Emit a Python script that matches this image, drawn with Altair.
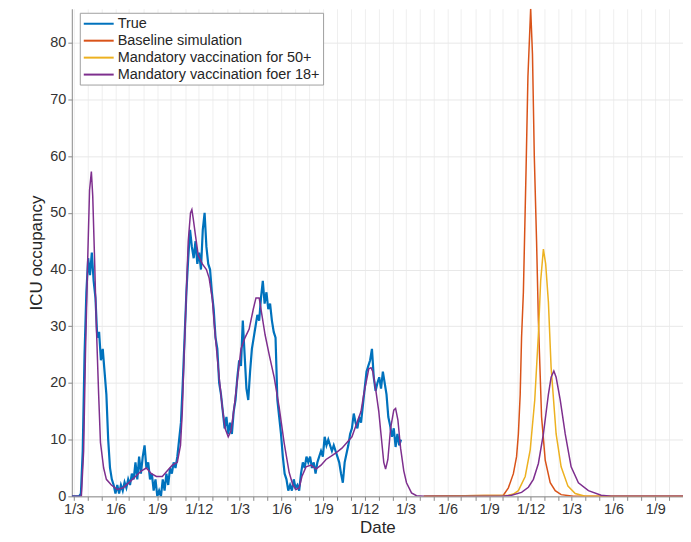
import altair as alt
import pandas as pd

# ---- data ----
series_names = ["True", "Baseline simulation", "Mandatory vaccination for 50+", "Mandatory vaccination foer 18+"]
series_colors = ["#0072BD", "#D95319", "#EDB120", "#7E2F8E"]

# observed ICU occupancy, one value every 4 days from 2020-02-26
true_start = "2020-02-26"
true_step_days = 4
true_values = [
    0, 0, 0, 0, 0, 0.5, 8, 25, 36, 42,
    39, 43, 38, 35, 28, 29, 24, 26, 22, 18,
    10, 5, 3, 2, 0.5, 2, 0.5, 2, 1, 2.5,
    1.5, 3, 2, 4, 3, 6, 3, 7, 4, 7,
    9, 5, 6, 3, 4, 1, 3, 0, 1, 0,
    3, 1, 4, 2, 5, 4, 6, 5, 7, 10,
    13, 20, 28, 36, 42, 47, 44, 42, 45, 41,
    43, 40, 47, 50, 44, 41, 40, 36, 33, 28,
    26, 20, 18, 15, 12, 14, 11, 13, 11, 15,
    17, 21, 24, 23, 31, 25, 19, 17, 22, 26,
    28, 30, 32, 31, 35, 38, 34, 36, 33, 34,
    31, 29, 28, 17, 14, 11, 7, 4, 3, 1,
    2, 1, 3, 1.5, 2, 1, 4, 6, 5, 7,
    6, 7, 5, 6, 4, 6, 7, 8, 7, 10.5,
    9, 10, 9, 8, 9, 8, 7, 6, 4, 2.4,
    6, 7.5, 9, 11, 12, 14.6, 13, 12, 14, 13,
    16, 19, 22, 23, 24, 26, 21, 18.6, 20, 21,
    19, 22, 20, 18, 14, 12.5, 10.5, 12, 8.7, 11,
    9, 10,
]

# fitted model + scenario "mandatory vaccination for 18+"
v18_dates = [
    "2020-02-26", "2020-03-18", "2020-03-23", "2020-03-27", "2020-04-01", "2020-04-05", "2020-04-09", "2020-04-12", "2020-04-16", "2020-04-20",
    "2020-04-25", "2020-04-29", "2020-05-06", "2020-05-12", "2020-05-23", "2020-06-05", "2020-06-18", "2020-07-02", "2020-07-15", "2020-07-28",
    "2020-08-08", "2020-08-19", "2020-08-30", "2020-09-12", "2020-09-23", "2020-10-04", "2020-10-15", "2020-10-22", "2020-10-26", "2020-10-30",
    "2020-11-04", "2020-11-08", "2020-11-13", "2020-11-16", "2020-11-19", "2020-11-24", "2020-11-30", "2020-12-09", "2020-12-18", "2020-12-24",
    "2020-12-31", "2021-01-04", "2021-01-11", "2021-01-15", "2021-01-22", "2021-01-28", "2021-02-04", "2021-02-10", "2021-02-17", "2021-02-24",
    "2021-03-04", "2021-03-13", "2021-03-22", "2021-03-31", "2021-04-06", "2021-04-13", "2021-04-19", "2021-04-26", "2021-05-05", "2021-05-16",
    "2021-05-27", "2021-06-07", "2021-06-18", "2021-06-26", "2021-07-03", "2021-07-10", "2021-07-16", "2021-07-25", "2021-08-05", "2021-08-16",
    "2021-08-27", "2021-09-07", "2021-09-20", "2021-10-01", "2021-10-12", "2021-10-23", "2021-11-03", "2021-11-14", "2021-11-23", "2021-11-29",
    "2021-12-04", "2021-12-10", "2021-12-15", "2021-12-19", "2021-12-25", "2022-01-01", "2022-01-05", "2022-01-12", "2022-01-16", "2022-01-21",
    "2022-01-27", "2022-02-03", "2022-02-07", "2022-02-12", "2022-02-18", "2022-02-25", "2022-03-03", "2022-03-14", "2022-03-25", "2022-04-10",
    "2022-09-28", "2022-10-20", "2022-11-11", "2022-11-26", "2022-12-07", "2022-12-18", "2022-12-29", "2023-01-09", "2023-01-15", "2023-01-21",
    "2023-01-26", "2023-02-04", "2023-02-15", "2023-02-28", "2023-03-16", "2023-04-07", "2023-05-05", "2023-05-27", "2023-11-01",
]
v18_values = [
    0, 0, 8, 25, 42, 54, 57.3, 53, 42, 30,
    18, 9.5, 5, 3, 2, 1.2, 1.5, 2.5, 3.5, 4.5,
    5, 4, 3.5, 3.5, 4.5, 5.5, 6, 9, 15, 25,
    36, 45, 50, 50.6, 49, 46, 42.5, 41, 40, 38.5,
    34.8, 30.5, 24.4, 21, 15.7, 12, 10.5, 11.5, 15.7, 20.5,
    26, 28, 29.5, 33, 35, 35, 32, 28.5, 25, 21,
    15.7, 9.4, 4.2, 2, 1.2, 1.5, 3.5, 5.2, 5.5, 4.8,
    5.5, 6.5, 7.2, 7.8, 8.5, 9.5, 10.5, 13, 15, 18,
    20, 22.5, 22.7, 22, 19, 15, 11.7, 6, 4.8, 6.5,
    12, 15.2, 15.5, 13.5, 8.5, 4.5, 2.4, 0.6, 0.1, 0,
    0, 0.2, 0.7, 1.6, 3, 5.8, 11, 18, 21, 22.1,
    21, 17, 11, 5.2, 2.4, 1, 0.2, 0, 0,
]

# baseline simulation (forecast part)
base_dates = [
    "2022-04-10", "2022-10-02", "2022-10-13", "2022-10-24", "2022-10-31", "2022-11-04", "2022-11-08", "2022-11-11", "2022-11-15", "2022-11-21",
    "2022-11-25", "2022-12-01", "2022-12-05", "2022-12-09", "2022-12-14", "2022-12-18", "2022-12-25", "2023-01-02", "2023-01-13", "2023-01-24",
    "2023-02-06", "2023-03-05", "2023-11-01",
]
base_values = [
    0, 0.2, 1.5, 4, 7, 11, 18, 28, 36, 58,
    74, 86, 78, 60, 45, 31, 14, 6.4, 2.4, 1,
    0.3, 0, 0,
]

# mandatory vaccination for 50+ (forecast part)
v50_dates = [
    "2022-04-10", "2022-10-13", "2022-10-24", "2022-11-04", "2022-11-19", "2022-11-30", "2022-12-10", "2022-12-18", "2022-12-23", "2022-12-29",
    "2023-01-03", "2023-01-09", "2023-01-15", "2023-01-26", "2023-02-06", "2023-02-21", "2023-03-09", "2023-03-31", "2023-11-01",
]
v50_values = [
    0, 0.2, 0.4, 1, 3.5, 8.2, 17, 28.6, 38, 43.6,
    41, 34.3, 22.7, 11, 5.2, 1.8, 0.5, 0, 0,
]

# ---- tables ----
df_true = pd.DataFrame({
    "date": pd.date_range(true_start, periods=len(true_values), freq=f"{true_step_days}D"),
    "value": true_values,
    "series": series_names[0],
})
df_base = pd.DataFrame({"date": pd.to_datetime(base_dates), "value": base_values, "series": series_names[1]})
df_50 = pd.DataFrame({"date": pd.to_datetime(v50_dates), "value": v50_values, "series": series_names[2]})
df_18 = pd.DataFrame({"date": pd.to_datetime(v18_dates), "value": v18_values, "series": series_names[3]})

month_ticks = [alt.DateTime(year=d.year, month=d.month, date=1)
               for d in pd.date_range("2020-03-01", "2023-11-01", freq="MS")]

x_enc = alt.X(
    "date:T",
    scale=alt.Scale(domain=[alt.DateTime(year=2020, month=2, date=26),
                            alt.DateTime(year=2023, month=11, date=1)]),
    axis=alt.Axis(
        values=month_ticks,
        labelExpr="(month(datum.value) % 3 == 2) ? timeFormat(datum.value, '%-d/%-m') : ''",
        title="Date",
        labelOverlap=False,
        labelFlush=False,
        tickSize=4,
        labelPadding=2,
        titlePadding=4,
        gridColor="#efefef",
    ),
)
y_enc = alt.Y(
    "value:Q",
    scale=alt.Scale(domain=[0, 86], nice=False),
    axis=alt.Axis(values=list(range(0, 90, 10)), title="ICU occupancy",
                  tickSize=4, labelPadding=2, titlePadding=4, gridColor="#e8e8e8"),
)
color_enc = alt.Color(
    "series:N",
    scale=alt.Scale(domain=series_names, range=series_colors),
    legend=alt.Legend(
        orient="none", legendX=8, legendY=4, title=None,
        symbolType="M-1,0H3.2857", symbolStrokeWidth=2, symbolSize=196,
        labelOffset=19, labelFontSize=14.5, labelLimit=400, rowPadding=2,
        strokeColor="#a0a0a0", fillColor="white", padding=3,
    ),
)

layers = [
    alt.Chart(d).mark_line(strokeWidth=w, clip=True).encode(x=x_enc, y=y_enc, color=color_enc)
    for d, w in [(df_true, 2.2), (df_base, 1.5), (df_50, 1.5), (df_18, 1.5)]
]

chart = alt.layer(*layers).properties(
    width=613,
    height=489,
    autosize=alt.AutoSizeParams(type="none"),
    padding={"left": 64, "top": 0, "right": 0, "bottom": 40},
).configure_view(
    stroke=None
).configure_axis(
    labelFont="Liberation Sans",
    titleFont="Liberation Sans",
    labelFontSize=14.5,
    titleFontSize=17,
    titleFontWeight="normal",
    labelColor="#333333",
    titleColor="#262626",
    domainColor="#8a8a8a",
    tickColor="#8a8a8a",
).configure_legend(
    labelFont="Liberation Sans",
    labelColor="#262626",
)

chart.save("out.html", embed_options={"renderer": "svg", "actions": False})
